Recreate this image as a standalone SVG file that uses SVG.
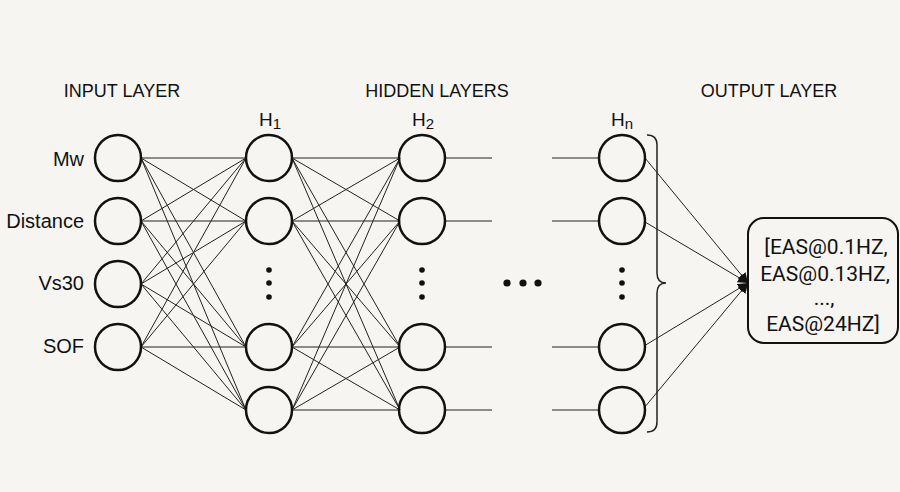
<svg xmlns="http://www.w3.org/2000/svg" width="900" height="492" viewBox="0 0 900 492">
<defs>
<style>
.hdr{font-family:"Liberation Sans",Arial,sans-serif;font-size:18px;fill:#111;text-anchor:middle}
.lbl{font-family:"Liberation Sans",Arial,sans-serif;font-size:20px;fill:#111;text-anchor:end}
.hl{font-family:"Liberation Sans",Arial,sans-serif;font-size:19px;fill:#111}
.out{font-family:Roboto,"Liberation Sans",Arial,sans-serif;font-size:21px;fill:#111;text-anchor:middle}
.node{fill:none;stroke:#111;stroke-width:2.5}
.c{stroke:#222;stroke-width:1;fill:none}
.dot{fill:#111}
</style>
<marker id="ah" viewBox="0 0 10 10" refX="10" refY="5" markerWidth="10" markerHeight="10" markerUnits="userSpaceOnUse" orient="auto"><path d="M0,0 L10,5 L0,10 z" fill="#111"/></marker>
</defs>
<rect width="900" height="492" fill="#f6f5f1"/>
<g id="headers">
<text class="hdr" x="122" y="97">INPUT LAYER</text>
<text class="hdr" x="437" y="97">HIDDEN LAYERS</text>
<text class="hdr" x="769" y="97">OUTPUT LAYER</text>
</g>
<g id="connectors">
<path class="c" d="M141,158 L246,158 M141,158 L246,221 M141,158 L246,347 M141,158 L246,410
M141,221 L246,158 M141,221 L246,221 M141,221 L246,347 M141,221 L246,410
M141,284 L246,158 M141,284 L246,221 M141,284 L246,347 M141,284 L246,410
M141,347 L246,158 M141,347 L246,221 M141,347 L246,347 M141,347 L246,410"/>
<path class="c" d="M292,158 L400,158 M292,158 L400,221 M292,158 L400,347 M292,158 L400,410
M292,221 L400,158 M292,221 L400,221 M292,221 L400,347 M292,221 L400,410
M292,347 L400,158 M292,347 L400,221 M292,347 L400,347 M292,347 L400,410
M292,410 L400,158 M292,410 L400,221 M292,410 L400,347 M292,410 L400,410"/>
<path class="c" d="M445,158 L492,158 M445,221 L492,221 M445,347 L492,347 M445,410 L492,410"/>
<path class="c" d="M552,158 L600,158 M552,221 L600,221 M552,347 L600,347 M552,410 L600,410"/>
<line class="c" x1="645" y1="158" x2="748" y2="283" marker-end="url(#ah)"/>
<line class="c" x1="645" y1="222" x2="748" y2="283" marker-end="url(#ah)"/>
<line class="c" x1="644" y1="346" x2="748" y2="283" marker-end="url(#ah)"/>
<line class="c" x1="644" y1="408" x2="748" y2="283" marker-end="url(#ah)"/>
<path d="M647,135 Q657,135 657,145 L657,273 Q657,283 666,283 Q657,283 657,293 L657,422 Q657,432 647,432" fill="none" stroke="#222" stroke-width="1.5"/>
</g>
<g id="input-layer">
<g id="in-mw"><circle class="node" cx="118" cy="158" r="23"/><text class="lbl" x="84" y="166">Mw</text></g>
<g id="in-distance"><circle class="node" cx="118" cy="221" r="23"/><text class="lbl" x="84" y="228">Distance</text></g>
<g id="in-vs30"><circle class="node" cx="118" cy="284" r="23"/><text class="lbl" x="84" y="290">Vs30</text></g>
<g id="in-sof"><circle class="node" cx="118" cy="347" r="23"/><text class="lbl" x="84" y="353">SOF</text></g>
</g>
<g id="h1">
<text class="hl" x="259" y="126">H<tspan font-size="15" dy="3">1</tspan></text>
<circle class="node" cx="269" cy="158" r="23"/>
<circle class="node" cx="269" cy="221" r="23"/>
<circle class="dot" cx="269" cy="270" r="2.8"/><circle class="dot" cx="269" cy="283" r="2.8"/><circle class="dot" cx="269" cy="297" r="2.8"/>
<circle class="node" cx="269" cy="347" r="23"/>
<circle class="node" cx="269" cy="410" r="23"/>
</g>
<g id="h2">
<text class="hl" x="412" y="126">H<tspan font-size="15" dy="3">2</tspan></text>
<circle class="node" cx="422" cy="158" r="23"/>
<circle class="node" cx="422" cy="221" r="23"/>
<circle class="dot" cx="422" cy="270" r="2.8"/><circle class="dot" cx="422" cy="283" r="2.8"/><circle class="dot" cx="422" cy="297" r="2.8"/>
<circle class="node" cx="422" cy="347" r="23"/>
<circle class="node" cx="422" cy="410" r="23"/>
</g>
<g id="ellipsis">
<circle class="dot" cx="507" cy="283" r="3.6"/><circle class="dot" cx="523" cy="283" r="3.6"/><circle class="dot" cx="538" cy="283" r="3.6"/>
</g>
<g id="hn">
<text class="hl" x="611" y="126">H<tspan font-size="15" dy="3">n</tspan></text>
<circle class="node" cx="622" cy="158" r="23"/>
<circle class="node" cx="622" cy="221" r="23"/>
<circle class="dot" cx="622" cy="270" r="2.8"/><circle class="dot" cx="622" cy="283" r="2.8"/><circle class="dot" cx="622" cy="297" r="2.8"/>
<circle class="node" cx="622" cy="347" r="23"/>
<circle class="node" cx="622" cy="410" r="23"/>
</g>
<g id="output">
<rect x="748" y="218" width="150" height="125" rx="16" fill="none" stroke="#111" stroke-width="2"/>
<text class="out" x="826" y="254">[EAS@0.1HZ,</text>
<text class="out" x="825" y="281">EAS@0.13HZ,</text>
<text class="out" x="824" y="305">...,</text>
<text class="out" x="823" y="331">EAS@24HZ]</text>
</g>
</svg>
